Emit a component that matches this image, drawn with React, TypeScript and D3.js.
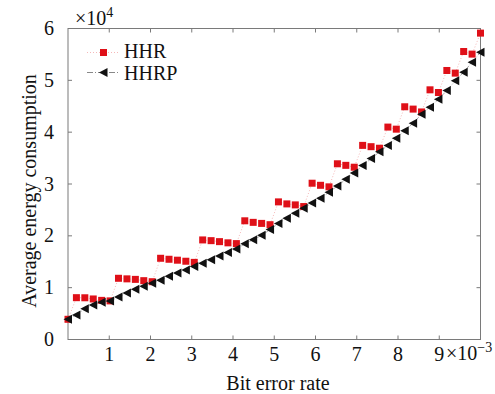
import React, { useEffect, useRef } from 'react';
import * as d3 from 'd3';

// bit error rate, in units of 1e-3
const ber = [
  0, 0.204, 0.408, 0.612, 0.816, 1.020, 1.224, 1.429, 1.633, 1.837,
  2.041, 2.245, 2.449, 2.653, 2.857, 3.061, 3.265, 3.469, 3.673, 3.878,
  4.082, 4.286, 4.490, 4.694, 4.898, 5.102, 5.306, 5.510, 5.714, 5.918,
  6.122, 6.327, 6.531, 6.735, 6.939, 7.143, 7.347, 7.551, 7.755, 7.959,
  8.163, 8.367, 8.571, 8.776, 8.980, 9.184, 9.388, 9.592, 9.796, 10.0,
];

const hhr = [
  3900, 8070, 8050, 7820, 7550, 7450, 11810, 11700, 11600, 11350,
  11150, 15670, 15480, 15300, 15100, 14880, 19210, 19070, 18880, 18650,
  18500, 22900, 22600, 22400, 22150, 26550, 26160, 25970, 25650, 30150,
  29750, 29450, 33900, 33600, 33240, 37450, 37200, 36900, 40980, 40580,
  44900, 44450, 43900, 48170, 47650, 51900, 51390, 55560, 55060, 59110,
];

const hhrp = [
  3900, 4730, 5950, 6660, 7180, 7430, 8200, 8980, 9700, 10270,
  10850, 11450, 12200, 12850, 13420, 14060, 14700, 15400, 16100, 16800,
  17450, 18450, 19250, 20100, 21200, 22400, 23400, 24360, 25330, 26350,
  27260, 28420, 29630, 30900, 32100, 33550, 34900, 36200, 37450, 38840,
  40250, 41740, 43470, 44830, 46370, 48030, 49900, 51580, 53510, 55440,
];

const xTicks = [1, 2, 3, 4, 5, 6, 7, 8, 9];
const yTicks = [0, 1, 2, 3, 4, 5, 6];

const FONT = 'Liberation Serif';

function App() {
  const svgRef = useRef(null);

  useEffect(() => {
    const width = 495;
    const height = 394;
    const margin = { top: 28.5, right: 14.5, bottom: 54.5, left: 68 };
    const innerWidth = width - margin.left - margin.right;
    const innerHeight = height - margin.top - margin.bottom;

    const svg = d3.select(svgRef.current)
      .attr('width', width)
      .attr('height', height)
      .style('font-family', FONT);
    svg.selectAll('*').remove();

    svg.append('rect').attr('width', width).attr('height', height).attr('fill', '#fff');

    const g = svg.append('g')
      .attr('transform', `translate(${margin.left},${margin.top})`);

    const x = d3.scaleLinear().domain([0, 10]).range([0, innerWidth]);
    const y = d3.scaleLinear().domain([0, 60000]).range([innerHeight, 0]);

    const axisColor = '#7a7a7a';
    const tickLen = 4;

    // box
    g.append('rect')
      .attr('width', innerWidth)
      .attr('height', innerHeight)
      .attr('fill', 'none')
      .attr('stroke', axisColor)
      .attr('stroke-width', 1);

    // inner ticks, bottom and top
    xTicks.forEach(t => {
      const px = x(t);
      g.append('line').attr('x1', px).attr('x2', px)
        .attr('y1', innerHeight).attr('y2', innerHeight - tickLen)
        .attr('stroke', axisColor);
      g.append('line').attr('x1', px).attr('x2', px)
        .attr('y1', 0).attr('y2', tickLen)
        .attr('stroke', axisColor);
      g.append('text')
        .attr('x', px)
        .attr('y', innerHeight + 21)
        .attr('text-anchor', 'middle')
        .attr('font-size', 20)
        .attr('fill', '#111')
        .text(t);
    });

    // inner ticks, left and right
    yTicks.forEach(t => {
      const py = y(t * 10000);
      g.append('line').attr('x1', 0).attr('x2', tickLen)
        .attr('y1', py).attr('y2', py)
        .attr('stroke', axisColor);
      g.append('line').attr('x1', innerWidth).attr('x2', innerWidth - tickLen)
        .attr('y1', py).attr('y2', py)
        .attr('stroke', axisColor);
      g.append('text')
        .attr('x', -14)
        .attr('y', py)
        .attr('dy', '0.33em')
        .attr('text-anchor', 'end')
        .attr('font-size', 20)
        .attr('fill', '#111')
        .text(t);
    });

    // exponent labels
    const expTop = svg.append('text')
      .attr('x', 75)
      .attr('y', 25)
      .attr('font-size', 20)
      .attr('fill', '#111');
    expTop.append('tspan').text('×10');
    expTop.append('tspan').attr('font-size', 14).attr('dy', -8).text('4');

    const expBottom = svg.append('text')
      .attr('x', 446)
      .attr('y', 360)
      .attr('font-size', 20)
      .attr('fill', '#111');
    expBottom.append('tspan').text('×10');
    expBottom.append('tspan').attr('font-size', 14).attr('dy', -8).text('−3');

    // axis titles
    svg.append('text')
      .attr('x', 278)
      .attr('y', 390)
      .attr('text-anchor', 'middle')
      .attr('font-size', 20)
      .attr('fill', '#111')
      .text('Bit error rate');

    svg.append('text')
      .attr('transform', 'translate(36,191) rotate(-90)')
      .attr('text-anchor', 'middle')
      .attr('font-size', 20)
      .attr('fill', '#111')
      .text('Average energy consumption');

    const line = d3.line()
      .x(d => x(d[0]))
      .y(d => y(d[1]));

    const hhrData = ber.map((b, i) => [b, hhr[i]]);
    const hhrpData = ber.map((b, i) => [b, hhrp[i]]);

    // HHR
    g.append('path')
      .datum(hhrData)
      .attr('d', line)
      .attr('fill', 'none')
      .attr('stroke', '#f5b8b8')
      .attr('stroke-width', 1)
      .attr('stroke-dasharray', '1,2');

    // HHRP
    g.append('path')
      .datum(hhrpData)
      .attr('d', line)
      .attr('fill', 'none')
      .attr('stroke', '#aaa')
      .attr('stroke-width', 1)
      .attr('stroke-dasharray', '4,2,1,2');

    const sq = 7;
    g.selectAll('.hhr')
      .data(hhrData)
      .enter()
      .append('rect')
      .attr('class', 'hhr')
      .attr('x', d => x(d[0]) - sq / 2)
      .attr('y', d => y(d[1]) - sq / 2)
      .attr('width', sq)
      .attr('height', sq)
      .attr('fill', '#df1018');

    const tri = (cx, cy) => `M${cx - 4.5},${cy} L${cx + 4},${cy - 4.5} L${cx + 4},${cy + 4.5} Z`;
    g.selectAll('.hhrp')
      .data(hhrpData)
      .enter()
      .append('path')
      .attr('class', 'hhrp')
      .attr('d', d => tri(x(d[0]), y(d[1])))
      .attr('fill', '#111');

    // legend
    const lg = svg.append('g');
    lg.append('line')
      .attr('x1', 87).attr('x2', 120).attr('y1', 52.5).attr('y2', 52.5)
      .attr('stroke', '#f5b8b8').attr('stroke-dasharray', '1,2');
    lg.append('rect')
      .attr('x', 103.5 - sq / 2).attr('y', 52.5 - sq / 2)
      .attr('width', sq).attr('height', sq)
      .attr('fill', '#df1018');
    lg.append('text')
      .attr('x', 124).attr('y', 57.5)
      .attr('font-size', 20).attr('fill', '#111')
      .text('HHR');

    lg.append('line')
      .attr('x1', 87).attr('x2', 120).attr('y1', 72.5).attr('y2', 72.5)
      .attr('stroke', '#888').attr('stroke-dasharray', '6,2,1,2');
    lg.append('path')
      .attr('d', tri(103.5, 72.5))
      .attr('fill', '#111');
    lg.append('text')
      .attr('x', 124).attr('y', 80)
      .attr('font-size', 20).attr('fill', '#111')
      .text('HHRP');
  }, []);

  return (
    <svg ref={svgRef} style={{ position: 'absolute', left: 0, top: 0 }}></svg>
  );
}

export default App;
